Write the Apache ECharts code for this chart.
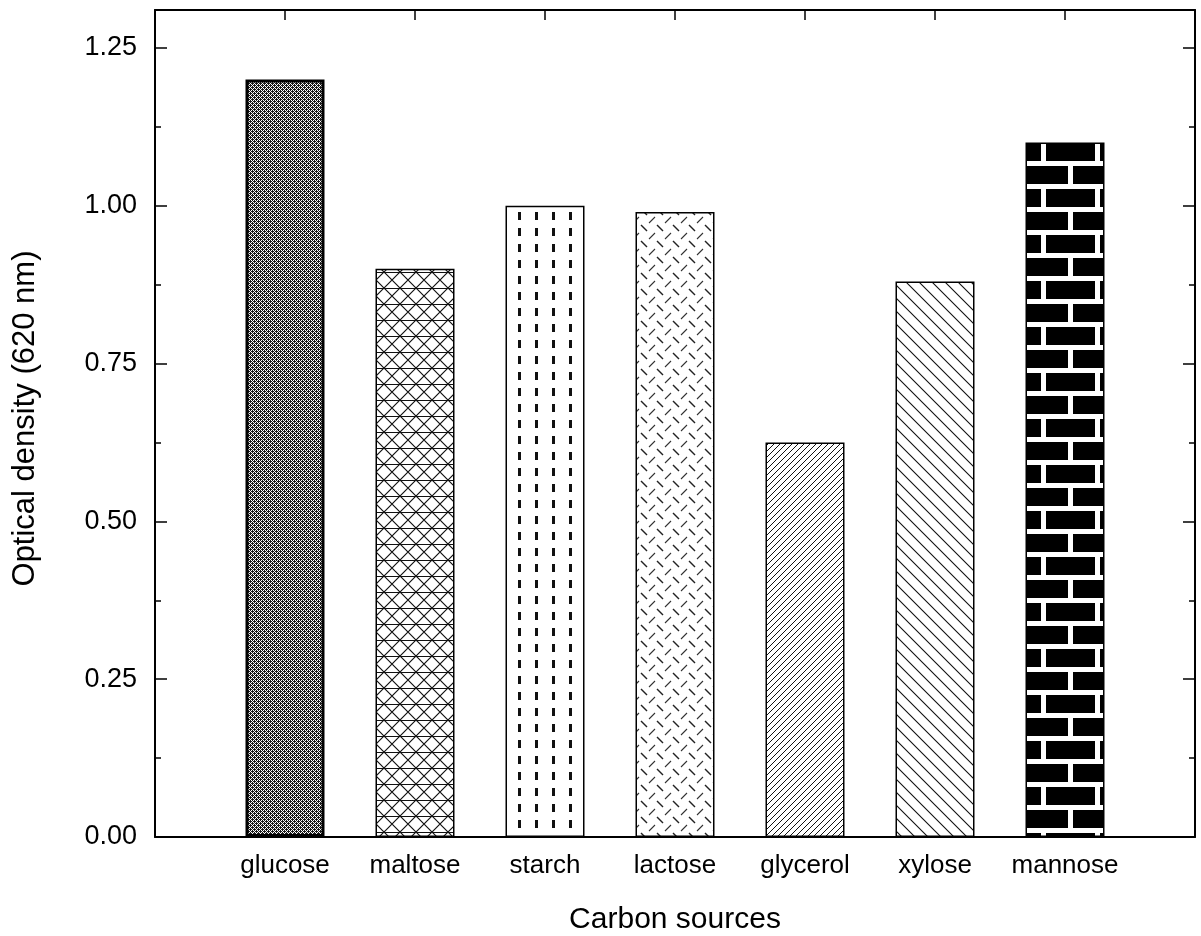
<!DOCTYPE html>
<html>
<head>
<meta charset="utf-8">
<title>Carbon sources</title>
<script src="https://cdn.jsdelivr.net/npm/echarts@6/dist/echarts.min.js"></script>
<style>
    html, body, #main {
        width: 100%;
        height: 100%;
        margin: 0;
        background: #fff;
    }
</style>
</head>
<body>
<div id="main"></div>
<script>
// data
var sources = ['glucose', 'maltose', 'starch', 'lactose', 'glycerol', 'xylose', 'mannose'];
var density = [1.20, 0.90, 1.00, 0.99, 0.625, 0.88, 1.10];
var yMin = 0, yMax = 1.31, yStep = 0.25;
var xMin = 0, xMax = 8;

var font = "'Liberation Sans', Arial, Helvetica, sans-serif";

// small canvas tiles for the hatch fills
function tile(w, h, draw) {
    var c = document.createElement('canvas');
    c.width = w; c.height = h;
    var g = c.getContext('2d');
    draw(g, w, h);
    return { image: c, repeat: 'repeat' };
}
function white(g, w, h) { g.fillStyle = '#fff'; g.fillRect(0, 0, w, h); }

var fills = [
    // glucose: dark stipple
    tile(4, 4, function (g) {
        g.fillStyle = '#1a1a1a'; g.fillRect(0, 0, 4, 4);
        g.fillStyle = '#fff';
        g.fillRect(1, 0, 1, 1); g.fillRect(0, 1, 1, 1);
        g.fillRect(3, 2, 1, 1); g.fillRect(2, 3, 1, 1);
        g.fillRect(3, 0, 1, 1); g.fillRect(1, 2, 1, 1);
    }),
    // maltose: horizontal lines + crosses
    tile(16, 16, function (g, w, h) {
        white(g, w, h);
        g.strokeStyle = '#111'; g.lineWidth = 1.2;
        g.beginPath();
        g.moveTo(0, 0.5); g.lineTo(16, 0.5);
        g.moveTo(0, 0); g.lineTo(16, 16);
        g.moveTo(16, 0); g.lineTo(0, 16);
        g.stroke();
    }),
    // starch: vertical dashes
    tile(17, 16, function (g, w, h) {
        white(g, w, h);
        g.fillStyle = '#111';
        g.fillRect(8, 4, 3, 8);
    }),
    // lactose: diamond plate dashes
    tile(16, 16, function (g, w, h) {
        white(g, w, h);
        g.strokeStyle = '#222'; g.lineWidth = 1.4;
        g.beginPath();
        g.moveTo(1, 1); g.lineTo(7, 7);
        g.stroke();
        g.strokeStyle = '#333'; g.lineWidth = 1.1;
        g.beginPath();
        g.moveTo(9, 15); g.lineTo(15, 9);
        g.stroke();
    }),
    // glycerol: dense forward diagonals
    tile(6, 6, function (g, w, h) {
        white(g, w, h);
        g.strokeStyle = '#111'; g.lineWidth = 1;
        g.beginPath();
        g.moveTo(0, 6); g.lineTo(6, 0);
        g.moveTo(-1, 1); g.lineTo(1, -1);
        g.moveTo(5, 7); g.lineTo(7, 5);
        g.stroke();
    }),
    // xylose: sparse back diagonals
    tile(13, 13, function (g, w, h) {
        white(g, w, h);
        g.strokeStyle = '#111'; g.lineWidth = 1.1;
        g.beginPath();
        g.moveTo(0, 0); g.lineTo(13, 13);
        g.moveTo(-1, 12); g.lineTo(1, 14);
        g.moveTo(12, -1); g.lineTo(14, 1);
        g.stroke();
    }),
    // mannose: black bricks, white mortar
    tile(54, 46, function (g) {
        g.fillStyle = '#000'; g.fillRect(0, 0, 54, 46);
        g.fillStyle = '#fff';
        g.fillRect(0, 0, 54, 5);
        g.fillRect(0, 23, 54, 5);
        g.fillRect(15, 0, 5, 23);
        g.fillRect(42, 23, 5, 23);
    })
];

var barData = sources.map(function (s, i) {
    return {
        name: s,
        value: [i + 1, density[i]],
        itemStyle: {
            color: fills[i],
            borderColor: '#000',
            borderWidth: i === 0 ? 3 : 1.5
        }
    };
});

var axisLine = { show: true, onZero: false, lineStyle: { color: '#000', width: 2 } };

var myChart = echarts.init(document.getElementById('main'));
var option = {
    animation: false,
    backgroundColor: '#fff',
    grid: { left: 155, right: 6, top: 10, bottom: 99, outerBoundsMode: 'none' },
    xAxis: [{
        type: 'value',
        min: xMin, max: xMax, interval: 1,
        position: 'bottom',
        name: 'Carbon sources',
        nameLocation: 'middle',
        nameGap: 68,
        nameTextStyle: { color: '#000', fontSize: 30, fontFamily: font },
        axisLine: axisLine,
        axisTick: { show: true, inside: true, length: 11, lineStyle: { color: '#000', width: 1.5 } },
        axisLabel: {
            color: '#000', fontSize: 26, fontFamily: font, margin: 16,
            formatter: function (v) { return sources[Math.round(v) - 1] || ''; }
        },
        splitLine: { show: false }
    }, {
        type: 'value',
        min: xMin, max: xMax, interval: 1,
        position: 'top',
        axisLine: axisLine,
        axisTick: { show: true, inside: true, length: 10, lineStyle: { color: '#000', width: 1.5 } },
        axisLabel: { show: false },
        splitLine: { show: false }
    }],
    yAxis: [{
        type: 'value',
        min: yMin, max: yMax, interval: yStep,
        position: 'left',
        name: 'Optical density (620 nm)',
        nameLocation: 'middle',
        nameRotate: 90,
        nameGap: 114,
        nameTextStyle: { color: '#000', fontSize: 31, fontFamily: font, padding: [0, 0, 0, 10] },
        axisLine: axisLine,
        axisTick: { show: true, inside: true, length: 12, lineStyle: { color: '#000', width: 1.5 } },
        minorTick: { show: true, splitNumber: 2, length: 6, lineStyle: { color: '#000', width: 1.5 } },
        axisLabel: {
            color: '#000', fontSize: 27, fontFamily: font, margin: 18,
            showMaxLabel: false,
            formatter: function (v) { return v.toFixed(2); }
        },
        splitLine: { show: false }
    }, {
        type: 'value',
        min: yMin, max: yMax, interval: yStep,
        position: 'right',
        axisLine: axisLine,
        axisTick: { show: true, inside: true, length: 12, lineStyle: { color: '#000', width: 1.5 } },
        minorTick: { show: true, splitNumber: 2, length: 6, lineStyle: { color: '#000', width: 1.5 } },
        axisLabel: { show: false },
        splitLine: { show: false }
    }],
    series: [{
        type: 'bar',
        xAxisIndex: 0,
        yAxisIndex: 0,
        barWidth: 79,
        data: barData
    }]
};
myChart.setOption(option);
</script>
</body>
</html>
